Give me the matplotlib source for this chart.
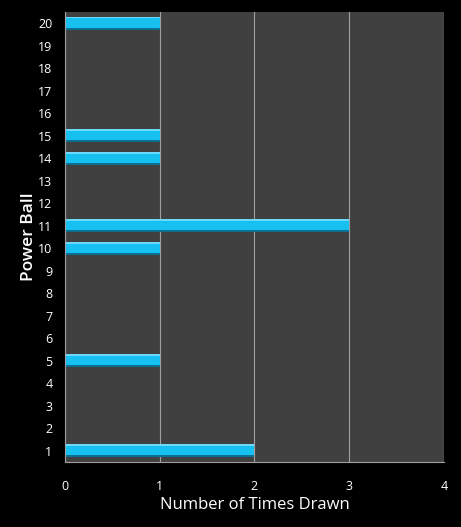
import numpy as np
import matplotlib
matplotlib.use('Agg')
import matplotlib.pyplot as plt

# Datos
balls = list(range(1, 21))
times_drawn = [2, 0, 0, 0, 1, 0, 0, 0, 0, 1, 3, 0, 0, 1, 1, 0, 0, 0, 0, 1]

plt.rcParams['font.family'] = ['Open Sans', 'DejaVu Sans']

fig = plt.figure(figsize=(4.61, 5.27), dpi=100, facecolor='black')
ax = fig.add_axes([0.141, 0.1233, 0.822, 0.854])
ax.set_facecolor('#404040')

ax.set_axisbelow(True)
ax.grid(axis='x', color='#a0a0a0', linewidth=0.8)

h = 0.58
y = np.array(balls)
# barra base (sombra inferior)
ax.barh(y, times_drawn, height=h, color='#0b6f92', edgecolor='none')
# cuerpo de la barra
ax.barh(y + 0.03, times_drawn, height=h - 0.1, color='#16c0f0', edgecolor='none')
# brillo superior
ax.barh(y + h / 2 - 0.04, times_drawn, height=0.08, color='#6ad9fb', edgecolor='none')

ax.set_xlim(0, 4)
ax.set_ylim(0.5, 20.5)
ax.set_xticks([0, 1, 2, 3, 4])
ax.set_yticks(balls)
ax.tick_params(colors='white', labelsize=9, length=0)
ax.tick_params(axis='y', pad=9)
ax.tick_params(axis='x', pad=13)

for side in ['top', 'right']:
    ax.spines[side].set_visible(False)
for side in ['left', 'bottom']:
    ax.spines[side].set_color('#a0a0a0')
    ax.spines[side].set_linewidth(0.8)

ax.set_xlabel('Number of Times Drawn', color='white', fontsize=12, labelpad=3)
ax.set_ylabel('Power Ball', color='white', fontsize=12.5, fontweight='semibold', labelpad=1)

fig.savefig('out.png', dpi=100, facecolor='black')
